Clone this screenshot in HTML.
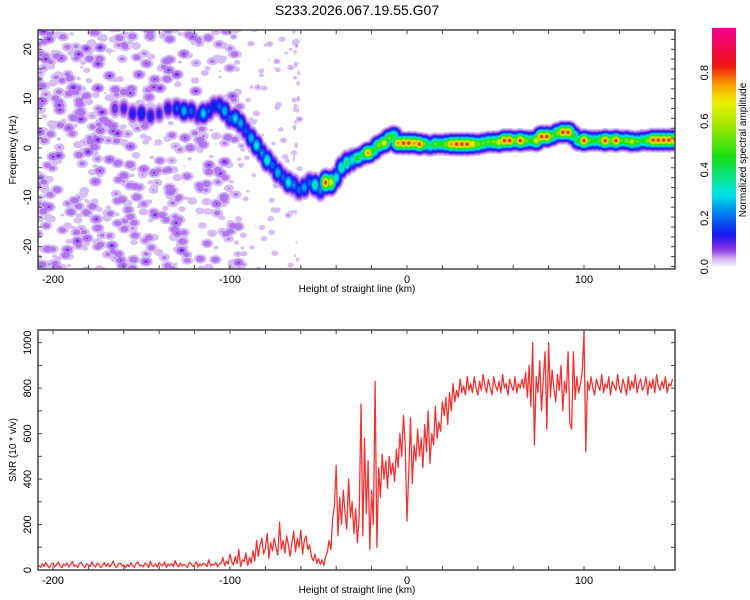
<!DOCTYPE html>
<html><head><meta charset="utf-8"><style>
html,body{margin:0;padding:0;background:#fff;}
svg{display:block;font-family:"Liberation Sans",sans-serif;}
</style></head><body>
<svg id="chart" width="750" height="600" viewBox="0 0 750 600">
<defs>
<clipPath id="clipTop"><rect x="38" y="30" width="637" height="239"/></clipPath>
<clipPath id="clipBot"><rect x="38" y="330" width="637" height="240"/></clipPath>
<linearGradient id="cbGrad" x1="0" y1="1" x2="0" y2="0"></linearGradient>
</defs>
<text x="357" y="15" text-anchor="middle" font-size="14" fill="#000">S233.2026.067.19.55.G07</text>
<g id="topPlot"></g>
<g id="botPlot"></g>
<g id="cbar"></g>
</svg>
<script>
// ---- data ----
const ridgeH = [-165,-160,-155,-150,-145,-140,-135,-130,-126,-122,-118,-115,-112,-109,-106,-103,-100,-97,-94,-91,-88,-85,-82,-79,-76,-73,-70,-67,-64,-61,-58,-55,-52,-49,-46,-43,-40,-37,-34,-31,-28,-25,-22,-19,-16,-13,-10,-7.5,-5,-2,1,4,7,10,13,16,19,22,25,28,31,34,37,40,43,46,49,52,55,58,61,64,67,70,73,76,79,82,85,88,91,94,97,100,103,106,109,112,115,118,121,124,127,130,133,136,139,142,145,148,151];
const ridgeF = [8,8,7,7,6.5,7,8,8,7.5,7.5,6.5,7,7.5,8.5,8.5,7.5,6,6,5,3.5,2,0.5,-1,-2.5,-3.5,-5,-6,-7,-7.5,-8.5,-8,-7,-7.5,-8.5,-7,-7,-6,-4,-3,-2.5,-2,-1.5,-1,-0.5,0.5,1,2,2.5,1,1,1,1,0.8,0.8,0.5,0.8,0.8,0.8,0.8,0.8,0.8,0.8,0.8,0.8,1,1.2,1.2,1.2,1.5,1.5,1.5,1.5,1.5,1.5,1.5,2.3,2.3,2.5,3,3.2,3.2,2.5,1.5,1.5,1.5,1.5,1.5,1.5,1.5,1.5,1.5,1.5,1.3,1.3,1.5,1.5,1.6,1.6,1.6,1.6,1.6];
const ridgeA = [0.1,0.12,0.15,0.18,0.15,0.12,0.15,0.2,0.3,0.22,0.15,0.32,0.2,0.18,0.22,0.3,
0.22,0.32,0.28,0.2,0.3,0.35,0.25,0.38,0.22,0.3,0.22,0.35,0.25,0.22,0.28,0.22,0.4,0.25,
0.85,0.7,0.35,0.4,0.45,0.35,0.5,0.45,0.8,0.5,0.6,0.7,0.55,0.45,0.8,0.85,0.85,0.8,0.85,0.55,0.45,0.55,0.5,0.6,0.8,0.85,0.85,0.85,0.75,0.6,0.55,0.55,0.6,0.7,0.85,0.85,0.6,0.85,0.6,0.5,0.7,0.85,0.85,0.55,0.6,0.85,0.85,0.5,0.5,0.85,0.55,0.5,0.55,0.85,0.6,0.85,0.55,0.6,0.65,0.55,0.5,0.6,0.85,0.85,0.85,0.85,0.8];
const snrStartKm = -208;
const snrValues = [
20,12,28,15,33,18,10,25,30,14,22,35,17,11,26,19,31,13,24,38,16,21,12,29,34,18,10,27,22,15,36,20,13,30,25,11,19,33,16,28,14,23,40,17,12,26,31,18,22,10,
24,15,33,19,12,28,36,17,21,14,30,25,11,38,20,16,27,13,32,22,18,35,12,26,19,29,15,41,23,14,31,17,25,20,11,34,28,16,22,37,13,27,19,30,24,15,45,18,26,21,33,14,28,
30,55,18,40,25,70,35,22,60,28,90,15,45,38,75,20,55,30,85,40,
130,60,110,140,70,95,160,50,120,85,140,100,65,210,90,130,75,150,110,60,
120,170,80,140,100,175,70,130,150,90,110,
60,40,70,30,50,25,45,20,60,
80,130,90,230,280,
460,150,320,200,350,250,180,400,230,300,160,270,120,240,
730,150,580,250,480,90,350,200,
830,100,450,320,510,400,480,360,500,420,470,390,530,
450,600,500,680,550,215,
430,670,380,550,480,620,500,580,450,640,520,700,470,600,550,720,580,650,610,740,
680,760,640,780,700,820,740,790,760,840,780,810,770,850,790,
820,780,850,800,770,830,790,860,810,780,840,800,770,850,810,790,830,780,860,800,820,770,840,810,790,850,780,820,800,840,
800,870,760,900,720,1000,550,850,780,920,700,840,960,620,1000,760,880,800,740,860,790,900,700,830,780,960,650,620,960,750,850,780,820,870,1050,
520,
830,790,850,800,770,840,810,790,860,780,820,800,850,770,830,810,790,860,800,780,840,810,770,850,790,830,800,860,780,820,840,790,810,850,770,830,800,840,780,860,810,790,830,800,850,780,820,810,840];
const xTickLabels = [-200,-100,0,100];
const freqTickLabels = [20,10,0,-10,-20];
const snrTickLabels = [0,200,400,600,800,1000];
const cbTickLabels = [0.0,0.2,0.4,0.6,0.8];

// ---- axes ----
const NS='http://www.w3.org/2000/svg';
const X = h => 407 + h*1.77;
const YF = f => 148 - f*4.935;
const YS = v => 570 - v*0.2273;
const YC = a => 266.7 - a*242.5;
function mk(tag, attrs, parent){const e=document.createElementNS(NS,tag);for(const k in attrs)e.setAttribute(k,attrs[k]);parent.appendChild(e);return e;}

const cstops=[[0,[246,240,253]],[0.03,[214,190,245]],[0.07,[140,50,230]],[0.13,[20,20,240]],[0.22,[0,128,240]],[0.3,[0,230,230]],[0.45,[20,224,20]],[0.58,[160,232,0]],[0.68,[240,240,0]],[0.75,[248,160,0]],[0.83,[240,20,20]],[0.98,[240,0,140]]];
function cmap(a){
  if(a<=0)return 'rgb(246,240,253)';
  for(let i=1;i<cstops.length;i++){if(a<=cstops[i][0]){const a0=cstops[i-1][0],c0=cstops[i-1][1],a1=cstops[i][0],c1=cstops[i][1];const t=(a-a0)/(a1-a0);return 'rgb('+c0.map((c,j)=>Math.round(c+(c1[j]-c)*t)).join(',')+')';}}
  return 'rgb(240,0,140)';
}

// ---- top panel ----
const topG=document.getElementById('topPlot');
const heat=mk('g',{'clip-path':'url(#clipTop)'},topG);


// background noise texture (seeded)
let seed=12345;function rnd(){seed|=0;seed=seed+0x6D2B79F5|0;let t=Math.imul(seed^seed>>>15,1|seed);t=t+Math.imul(t^t>>>7,61|t)^t;return((t^t>>>14)>>>0)/4294967296;}
const blobs=[];
for(let i=0;i<750;i++){const r=rnd();const u=rnd();blobs.push({h:-210+Math.pow(u,1.15)*116,f:-25+rnd()*50,a:0.017+0.065*Math.pow(r,1.7),sx:4.2,sy:3.2});}
for(let i=0;i<110;i++){blobs.push({h:-100+rnd()*40,f:-25+rnd()*50,a:0.014+0.03*rnd(),sx:3,sy:2.4});}
for(let i=0;i<35;i++){blobs.push({h:-64+rnd()*3,f:-25+rnd()*50,a:0.015+0.03*rnd(),sx:1.6,sy:2.5});}
for(let i=0;i<ridgeH.length;i++){
  const h=ridgeH[i];
  blobs.push({h:h,f:ridgeF[i],a:ridgeA[i],sx:h<-30?3.4:4.3,sy:h<-30?5.6:4.6});
}
const levels=[0.02,0.04,0.07,0.1,0.13,0.18,0.24,0.3,0.38,0.45,0.52,0.6,0.68,0.75,0.8,0.88];
levels.forEach(L=>{
  const col=cmap(L+0.01);
  blobs.forEach(b=>{
    if(b.a<=L)return;
    const s=Math.sqrt(2*Math.log(b.a/L));
    const el=mk('ellipse',{cx:X(b.h).toFixed(1),cy:YF(b.f).toFixed(1),rx:(b.sx*s).toFixed(2),ry:(b.sy*s).toFixed(2),fill:col},heat);
    
    
  });
});
function frame(g,y0,h,name){
  const r=mk('rect',{x:38,y:y0,width:637,height:h,fill:'none',stroke:'#444','stroke-width':1.5},g);
  
  
  for(let k=-200;k<=150;k+=20){const x=X(k);mk('line',{x1:x,x2:x,y1:y0,y2:y0+4,stroke:'#444'},g);mk('line',{x1:x,x2:x,y1:y0+h,y2:y0+h-4,stroke:'#444'},g);}
  xTickLabels.forEach(v=>{const t=mk('text',{x:X(v),y:y0+h+14,'text-anchor':'middle','font-size':11},g);t.textContent=v;
    
    });
  const t=mk('text',{x:357,y:y0+h+23,'text-anchor':'middle','font-size':10},g);t.textContent='Height of straight line (km)';
  
  
}
frame(topG,30,239,'spectrogram-frame');
for(let f=-24;f<=24;f+=2){const y=YF(f);mk('line',{x1:38,x2:42,y1:y,y2:y,stroke:'#444'},topG);mk('line',{x1:675,x2:671,y1:y,y2:y,stroke:'#444'},topG);}
freqTickLabels.forEach(v=>{const y=YF(v);const t=mk('text',{x:0,y:0,'text-anchor':'middle','font-size':11,transform:'translate(31,'+y+') rotate(-90)'},topG);t.textContent=v;
  
  });
{const t=mk('text',{x:0,y:0,'text-anchor':'middle','font-size':10,transform:'translate(16,150) rotate(-90)'},topG);t.textContent='Frequency (Hz)';

}

// ---- bottom panel ----
const botG=document.getElementById('botPlot');
const pts=snrValues.map((v,i)=>X(snrStartKm+i).toFixed(1)+','+YS(v).toFixed(1)).join(' ');
const line=mk('polyline',{points:pts,fill:'none',stroke:'#f03434','stroke-width':1.3,'stroke-linejoin':'round','clip-path':'url(#clipBot)'},botG);


frame(botG,330,240,'snr-frame');
for(let v=0;v<=1050;v+=100){const y=YS(v);mk('line',{x1:38,x2:42,y1:y,y2:y,stroke:'#444'},botG);mk('line',{x1:675,x2:671,y1:y,y2:y,stroke:'#444'},botG);}
snrTickLabels.forEach(v=>{const y=YS(v);const t=mk('text',{x:0,y:0,'text-anchor':'middle','font-size':11,transform:'translate(31,'+y+') rotate(-90)'},botG);t.textContent=v;
  
  });
{const t=mk('text',{x:0,y:0,'text-anchor':'middle','font-size':10,transform:'translate(16,450) rotate(-90)'},botG);t.textContent='SNR (10 * v/v)';

}

// ---- colorbar ----
const grad=document.getElementById('cbGrad');
for(let a=0;a<=1.0001;a+=0.02){mk('stop',{offset:(a*100).toFixed(0)+'%','stop-color':cmap(a*0.985)},grad);}
const cbG=document.getElementById('cbar');
const cr=mk('rect',{x:712,y:YC(0.985),width:24,height:YC(0)-YC(0.985),fill:'url(#cbGrad)'},cbG);


cbTickLabels.forEach(v=>{const t=mk('text',{x:0,y:0,'text-anchor':'middle','font-size':11,transform:'translate(708,'+YC(v)+') rotate(-90)'},cbG);t.textContent=v.toFixed(1);
  
  });
{const t=mk('text',{x:0,y:0,'text-anchor':'middle','font-size':10,transform:'translate(746,150) rotate(-90)'},cbG);t.textContent='Normalized spectral amplitude';

}
</script>
</body></html>
